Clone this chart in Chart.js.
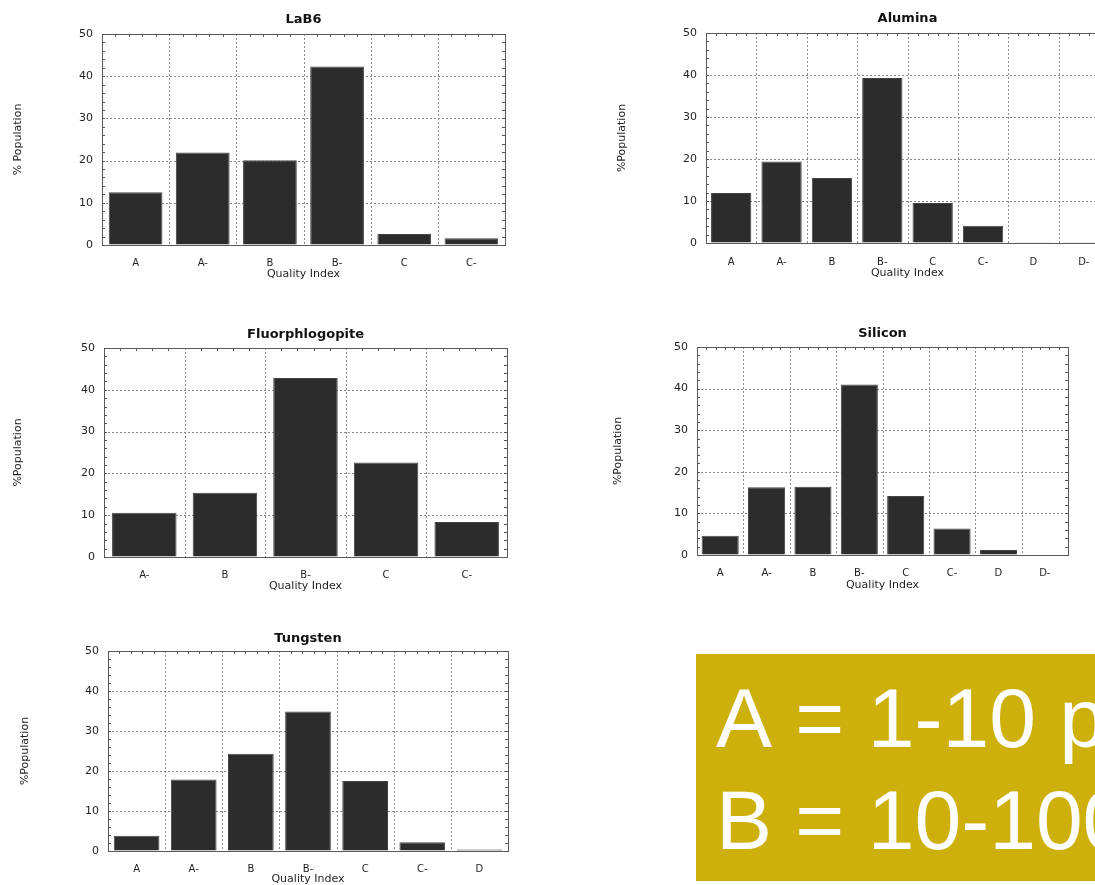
<!DOCTYPE html>
<html>
<head>
<meta charset="utf-8">
<title>Quality Index distributions</title>
<script src="https://cdn.jsdelivr.net/npm/chart.js@4.4.1/dist/chart.umd.min.js"></script>
<style>
  html, body { margin: 0; padding: 0; background: #fff; }
  body { position: relative; width: 1095px; height: 885px; overflow: hidden; }
  canvas { position: absolute; }
</style>
</head>
<body>
<canvas id="lab6"></canvas>
<canvas id="alumina"></canvas>
<canvas id="fluor"></canvas>
<canvas id="silicon"></canvas>
<canvas id="tungsten"></canvas>
<canvas id="gradeKey" width="399" height="227" style="left:696px; top:654px; width:399px; height:227px;"></canvas>
<script>
// Quality-index histograms (% of population per grade)
const lab6Labels = ['A', 'A-', 'B', 'B-', 'C', 'C-'];
const lab6Values = [12.5, 21.9, 20.1, 42.3, 2.6, 1.6];

const aluminaLabels = ['A', 'A-', 'B', 'B-', 'C', 'C-', 'D', 'D-'];
const aluminaValues = [11.9, 19.4, 15.5, 39.3, 9.5, 4.1, 0.2, 0.2];

const fluorLabels = ['A-', 'B', 'B-', 'C', 'C-'];
const fluorValues = [10.6, 15.4, 42.8, 22.6, 8.4];

const siliconLabels = ['A', 'A-', 'B', 'B-', 'C', 'C-', 'D', 'D-'];
const siliconValues = [4.6, 16.3, 16.4, 41.0, 14.2, 6.4, 1.2, 0];

const tungstenLabels = ['A', 'A-', 'B', 'B-', 'C', 'C-', 'D'];
const tungstenValues = [3.8, 17.9, 24.3, 34.9, 17.5, 2.2, 0.4];

const yTicks = [0, 10, 20, 30, 40, 50];

// Grade key lines shown in the yellow box
const gradeKeyLines = ['A = 1-10 p', 'B = 10-100'];

// Page placement of each panel: canvas box, plot box and text centres
const panels = [
  { id: 'lab6', title: 'LaB6', yTitle: '% Population', labels: lab6Labels, values: lab6Values,
    cl: 0, ct: 4, cw: 515, L: 102, T: 34, R: 505, B: 245, titleY: 18, yTitleX: 18, xLabelY: 263, xTitleY: 274 },
  { id: 'alumina', title: 'Alumina', yTitle: '%Population', labels: aluminaLabels, values: aluminaValues,
    cl: 600, ct: 3, cw: 520, L: 706, T: 33, R: 1109, B: 243, titleY: 17, yTitleX: 622, xLabelY: 262, xTitleY: 273 },
  { id: 'fluor', title: 'Fluorphlogopite', yTitle: '%Population', labels: fluorLabels, values: fluorValues,
    cl: 0, ct: 318, cw: 517, L: 104, T: 348, R: 507, B: 557, titleY: 333, yTitleX: 18, xLabelY: 575, xTitleY: 586 },
  { id: 'silicon', title: 'Silicon', yTitle: '%Population', labels: siliconLabels, values: siliconValues,
    cl: 600, ct: 317, cw: 480, L: 697, T: 347, R: 1068, B: 555, titleY: 332, yTitleX: 618, xLabelY: 573, xTitleY: 585 },
  { id: 'tungsten', title: 'Tungsten', yTitle: '%Population', labels: tungstenLabels, values: tungstenValues,
    cl: 0, ct: 621, cw: 518, L: 108, T: 651, R: 508, B: 851, titleY: 637, yTitleX: 25, xLabelY: 869, xTitleY: 879 }
];

const FONT = '"DejaVu Sans", Verdana, sans-serif';
const KEY_FONT = '84px "Liberation Sans", Arial, Helvetica, sans-serif';
const TEXT = '#1f1f1f';
const BOTTOM_BAND = 40;

// Small inward tick marks on the frame (every 2 % on the sides, fifths of a category on top)
const frameTicks = {
  id: 'frameTicks',
  afterDatasetsDraw(chart) {
    const { ctx, chartArea: a, scales } = chart;
    const x = scales.x, y = scales.y;
    ctx.save();
    ctx.strokeStyle = '#555';
    ctx.lineWidth = 1;
    ctx.beginPath();
    for (let v = y.min; v <= y.max; v += 2) {
      const py = Math.round(y.getPixelForValue(v)) + 0.5;
      ctx.moveTo(a.left, py); ctx.lineTo(a.left + 3, py);
      ctx.moveTo(a.right, py); ctx.lineTo(a.right - 3, py);
    }
    const n = chart.data.labels.length;
    const w = n > 1 ? x.getPixelForValue(1) - x.getPixelForValue(0) : a.right - a.left;
    for (let i = 0; i < n; i++) {
      const start = x.getPixelForValue(i) - w / 2;
      for (let k = 1; k < 5; k++) {
        const px = Math.round(start + k * w / 5) + 0.5;
        ctx.moveTo(px, a.top); ctx.lineTo(px, a.top + 3);
      }
    }
    ctx.stroke();
    ctx.restore();
  }
};

// Dotted grid lines inside the frame, with a solid frame drawn on top
const dottedGrid = {
  id: 'dottedGrid',
  beforeDatasetsDraw(chart) {
    const { ctx, chartArea: a, scales } = chart;
    const x = scales.x, y = scales.y;
    ctx.save();
    ctx.strokeStyle = '#8a8a8a';
    ctx.lineWidth = 1;
    ctx.setLineDash([2, 2]);
    ctx.beginPath();
    yTicks.forEach(v => {
      if (v === y.min || v === y.max) return;
      const py = Math.round(y.getPixelForValue(v)) + 0.5;
      ctx.moveTo(a.left, py); ctx.lineTo(a.right, py);
    });
    const n = chart.data.labels.length;
    const w = n > 1 ? x.getPixelForValue(1) - x.getPixelForValue(0) : a.right - a.left;
    for (let i = 1; i < n; i++) {
      const px = Math.round(x.getPixelForValue(i) - w / 2) + 0.5;
      ctx.moveTo(px, a.top); ctx.lineTo(px, a.bottom);
    }
    ctx.stroke();
    ctx.setLineDash([]);
    ctx.strokeStyle = '#5a5a5a';
    ctx.strokeRect(Math.round(a.left) + 0.5, Math.round(a.top) + 0.5,
                   Math.round(a.right - a.left), Math.round(a.bottom - a.top));
    ctx.restore();
  }
};

function buildPanel(p) {
  const canvas = document.getElementById(p.id);
  const ch = p.B + BOTTOM_BAND - p.ct;
  canvas.width = p.cw;
  canvas.height = ch;
  canvas.style.left = p.cl + 'px';
  canvas.style.top = p.ct + 'px';
  canvas.style.width = p.cw + 'px';
  canvas.style.height = ch + 'px';

  const titleFont = { family: FONT, size: 13, weight: 'bold', lineHeight: 1.2 };
  const axisFont = { family: FONT, size: 11, lineHeight: 1.2 };
  const tickFont = { family: FONT, size: 10, lineHeight: 1.2 };
  const yTickFont = { family: FONT, size: 11, lineHeight: 1.2 };

  const topBand = p.T - p.ct;
  const leftBand = p.L - p.cl;
  const rightPad = p.cl + p.cw - p.R;
  const hidden = 'rgba(0,0,0,0)';

  return new Chart(canvas, {
    type: 'bar',
    data: {
      labels: p.labels,
      datasets: [{
        data: p.values,
        backgroundColor: '#2c2c2c',
        borderColor: '#444',
        borderWidth: 1,
        categoryPercentage: 1,
        barPercentage: 0.8
      }]
    },
    options: {
      responsive: false,
      animation: false,
      devicePixelRatio: 1,
      layout: { padding: { left: 0, top: 0, right: rightPad, bottom: 0 } },
      plugins: { legend: { display: false }, tooltip: { enabled: false }, title: { display: false } },
      scales: {
        x: {
          type: 'category',
          position: 'bottom',
          offset: true,
          grid: { offset: true, color: hidden, drawTicks: false },
          border: { display: false },
          ticks: { color: TEXT, font: tickFont, padding: p.xLabelY - p.B - 6, maxRotation: 0, autoSkip: false },
          title: {
            display: true, text: 'Quality Index', color: TEXT, font: axisFont,
            padding: { top: 0, bottom: (p.B + BOTTOM_BAND) - p.xTitleY - 6.6 }
          },
          afterFit(s) { s.height = BOTTOM_BAND; }
        },
        top: {
          type: 'linear',
          position: 'top',
          min: 0, max: 1,
          grid: { display: false, drawTicks: false, drawOnChartArea: false },
          border: { display: false },
          ticks: { display: false },
          title: {
            display: true, text: p.title, color: '#111', font: titleFont,
            padding: { top: p.titleY - p.ct - 6, bottom: 0 }
          },
          afterFit(s) { s.height = topBand; }
        },
        y: {
          type: 'linear',
          position: 'left',
          min: yTicks[0], max: yTicks[yTicks.length - 1],
          afterBuildTicks(s) { s.ticks = yTicks.map(v => ({ value: v })); },
          grid: { color: hidden, drawTicks: false },
          border: { display: false },
          ticks: { color: TEXT, font: yTickFont, padding: 9 },
          title: {
            display: true, text: p.yTitle, color: TEXT, font: axisFont,
            padding: { top: p.yTitleX - p.cl - 6.6, bottom: 0 }
          },
          afterFit(s) { s.width = leftBand; }
        }
      }
    },
    plugins: [dottedGrid, frameTicks]
  });
}

// Yellow grade key: two large white lines, cut off at the page edge
function drawGradeKey() {
  const ctx = document.getElementById('gradeKey').getContext('2d');
  ctx.fillStyle = '#cdb00c';
  ctx.fillRect(0, 0, ctx.canvas.width, ctx.canvas.height);
  ctx.fillStyle = '#ffffff';
  ctx.font = KEY_FONT;
  ctx.textBaseline = 'alphabetic';
  const baselines = [93, 195];
  gradeKeyLines.forEach((line, i) => ctx.fillText(line, 20, baselines[i]));
}

panels.forEach(buildPanel);
drawGradeKey();
</script>
</body>
</html>
